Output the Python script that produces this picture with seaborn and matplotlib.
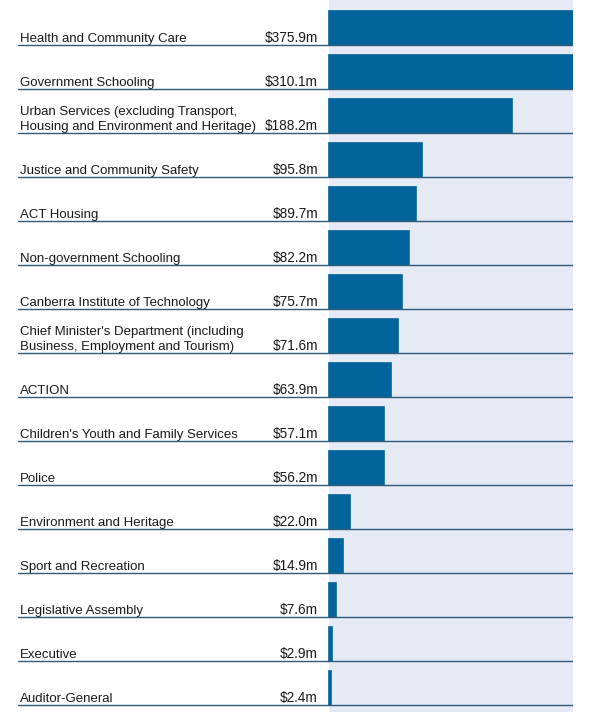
import matplotlib
matplotlib.use("Agg")
import matplotlib.pyplot as plt
import matplotlib.transforms as mtransforms
import seaborn as sns

# Data ($ million)
departments = [
    "Health and Community Care",
    "Government Schooling",
    "Urban Services (excluding Transport,\nHousing and Environment and Heritage)",
    "Justice and Community Safety",
    "ACT Housing",
    "Non-government Schooling",
    "Canberra Institute of Technology",
    "Chief Minister's Department (including\nBusiness, Employment and Tourism)",
    "ACTION",
    "Children's Youth and Family Services",
    "Police",
    "Environment and Heritage",
    "Sport and Recreation",
    "Legislative Assembly",
    "Executive",
    "Auditor-General",
]
spending = [375.9, 310.1, 188.2, 95.8, 89.7, 82.2, 75.7, 71.6,
            63.9, 57.1, 56.2, 22.0, 14.9, 7.6, 2.9, 2.4]
value_labels = [f"${v:.1f}m" for v in spending]

BAR_COLOR = "#03649b"
PANEL_COLOR = "#e6eaf5"
LINE_COLOR = "#2d5b78"
TEXT_COLOR = "#1a1a1a"

W, H = 589, 712
sns.set_style("white")
plt.rcParams["font.family"] = ["Liberation Sans", "DejaVu Sans"]

fig = plt.figure(figsize=(W / 100, H / 100), dpi=100)

# axes span the rule lines (18px .. 573px), bars start at 329px
px_per_unit = 0.97
left_px, zero_px, right_px = 18, 329, 573
ax = fig.add_axes([left_px / W, 0, (right_px - left_px) / W, 1])
xmin = -(zero_px - left_px) / px_per_unit
xmax = (right_px - zero_px) / px_per_unit

bar_h = 34 / 44
sns.barplot(x=spending, y=departments, orient="h", color=BAR_COLOR,
            saturation=1, width=bar_h, ax=ax, zorder=2,
            edgecolor=BAR_COLOR, linewidth=1.2)

ax.set_xlim(xmin, xmax)
# row pitch 44px; bar bottom sits on the rule line
row_top = -(28.0) / 44
row_bot = (H - 28.0) / 44
ax.set_ylim(row_bot, row_top)
ax.axvspan(0, xmax, color=PANEL_COLOR, zorder=0, lw=0)
ax.set_axis_off()

trans = mtransforms.blended_transform_factory(fig.transFigure, ax.transData)
for i, (name, lab) in enumerate(zip(departments, value_labels)):
    line_y = i + bar_h / 2
    ax.axhline(line_y, color=LINE_COLOR, lw=1.0, zorder=3)
    ax.text(20 / W, line_y - 3 / 44, name, transform=trans, ha="left",
            va="baseline", fontsize=9.5, color=TEXT_COLOR, linespacing=1.3)
    ax.text(318 / W, line_y - 3 / 44, lab, transform=trans, ha="right",
            va="baseline", fontsize=9.8, color=TEXT_COLOR)

fig.savefig("out.png", dpi=100)
